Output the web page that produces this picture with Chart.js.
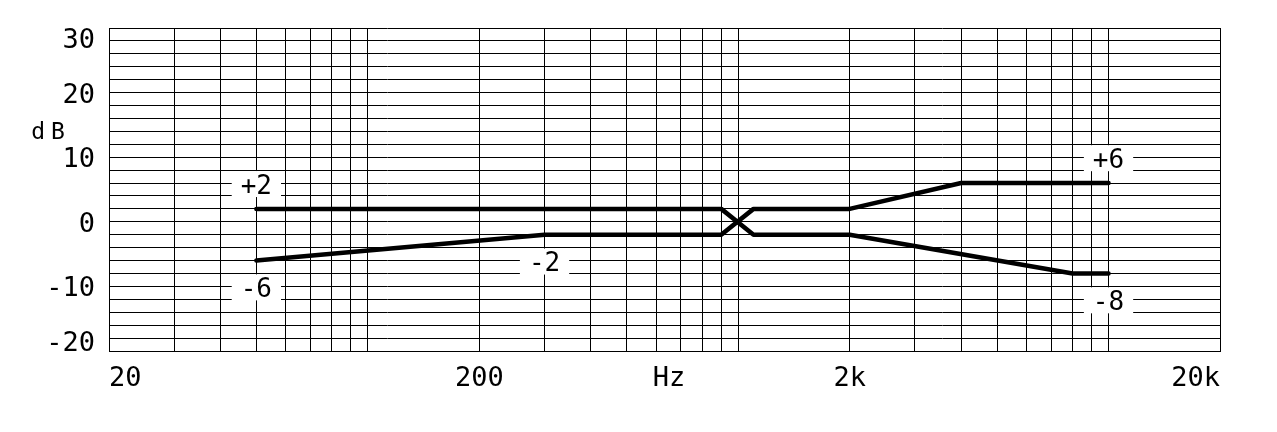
<!DOCTYPE html>
<html>
<head>
<meta charset="utf-8">
<script src="https://cdn.jsdelivr.net/npm/chart.js@4/dist/chart.umd.min.js"></script>
<style>
  html, body { margin: 0; padding: 0; background: #fff; }
  #wrap { width: 1277px; height: 432px; position: relative; }
</style>
</head>
<body>
<div id="wrap"><canvas id="eqChart"></canvas></div>
<script>
// Grid (1-2-3...-10 log grid), axis labels
const gridFreqs = [20, 30, 40, 50, 60, 70, 80, 90, 100,
  200, 300, 400, 500, 600, 700, 800, 900, 1000,
  2000, 3000, 4000, 5000, 6000, 7000, 8000, 9000, 10000, 20000];
const labelFreqs = [20, 200, 650, 2000, 20000];
const labelTexts = ['20', '200', 'Hz', '2k', '20k'];
const dbMin = -20;
const dbMax = 30;
const dbStep = 2;
const dbLabelValues = [-20, -10, 0, 10, 20, 30];

// the two curves
const curveAFreq = [50, 900, 1100, 2000, 8000, 10000];
const curveADb   = [2, 2, -2, -2, -8, -8];
const curveBFreq = [50, 300, 900, 1100, 2000, 4000, 10000];
const curveBDb   = [-6, -2, -2, 2, 2, 6, 6];

// small notes on the curves
const noteText = ['+2', '-6', '-2', '+6', '-8'];
const noteFreq = [50, 50, 300, 10000, 10000];
const noteDb   = [6, -10, -6, 10, -12];

const FONT = '"DejaVu Sans Mono", monospace';
const INK = '#000';

function toPoints(fs, ds) {
  return fs.map((f, i) => ({ x: f, y: ds[i] }));
}

const notesPlugin = {
  id: 'notes',
  beforeDatasetsDraw(chart) {
    const { ctx, scales } = chart;
    ctx.save();
    ctx.font = '26px ' + FONT;
    ctx.textAlign = 'center';
    ctx.textBaseline = 'middle';
    noteText.forEach((t, i) => {
      const px = scales.x.getPixelForValue(noteFreq[i]);
      const py = scales.y.getPixelForValue(noteDb[i]);
      const w = ctx.measureText(t).width;
      ctx.fillStyle = '#fff';
      ctx.fillRect(px - w / 2 - 9, py - 12, w + 18, 26);
      ctx.fillStyle = INK;
      ctx.fillText(t, px, py + 4);
    });
    ctx.restore();
  },
  afterDraw(chart) {
    // "dB" unit next to the y axis
    const { ctx, scales } = chart;
    ctx.save();
    ctx.font = '23px ' + FONT;
    ctx.letterSpacing = '6px';
    ctx.textAlign = 'center';
    ctx.textBaseline = 'middle';
    ctx.fillStyle = INK;
    ctx.fillText('dB', 51, scales.y.getPixelForValue(13.8));
    ctx.restore();
  }
};

function lineDs(fs, ds) {
  return {
    data: toPoints(fs, ds),
    borderColor: INK,
    borderWidth: 4.5,
    pointRadius: 0,
    tension: 0,
    borderCapStyle: 'round',
    borderJoinStyle: 'round',
    fill: false
  };
}

new Chart(document.getElementById('eqChart'), {
  type: 'line',
  data: {
    datasets: [lineDs(curveAFreq, curveADb), lineDs(curveBFreq, curveBDb)]
  },
  options: {
    responsive: true,
    maintainAspectRatio: false,
    animation: false,
    devicePixelRatio: 1,
    layout: { padding: { top: 28, right: 57, left: 0, bottom: 0 } },
    plugins: { legend: { display: false }, tooltip: { enabled: false } },
    scales: {
      x: {
        type: 'logarithmic',
        min: gridFreqs[0],
        max: gridFreqs[gridFreqs.length - 1],
        afterBuildTicks: s => {
          s.ticks = gridFreqs.concat(labelFreqs)
            .filter((v, i, a) => a.indexOf(v) === i)
            .sort((a, b) => a - b)
            .map(v => ({ value: v }));
        },
        afterFit: s => {
          s.height = 81;
          s.paddingLeft = 0;
          s.paddingRight = 0;
        },
        grid: {
          drawTicks: false,
          color: c => gridFreqs.includes(c.tick && c.tick.value) ? INK : 'rgba(0,0,0,0)',
          lineWidth: 1
        },
        border: { color: INK, width: 1 },
        ticks: {
          autoSkip: false,
          minRotation: 0,
          maxRotation: 0,
          align: 'inner',
          padding: 12,
          color: INK,
          font: { family: FONT, size: 27 },
          callback: v => {
            const k = labelFreqs.indexOf(v);
            return k >= 0 ? labelTexts[k] : '';
          }
        }
      },
      y: {
        min: dbMin,
        max: dbMax,
        afterBuildTicks: s => {
          const t = [];
          for (let v = dbMin; v <= dbMax; v += dbStep) t.push({ value: v });
          s.ticks = t;
        },
        afterFit: s => {
          s.width = 109;
          s.paddingTop = 0;
          s.paddingBottom = 0;
        },
        grid: { drawTicks: false, color: INK, lineWidth: 1 },
        border: { color: INK, width: 1 },
        ticks: {
          autoSkip: false,
          padding: 14,
          labelOffset: 3,
          color: INK,
          font: { family: FONT, size: 27, lineHeight: 0.75 },
          callback: (v, i, all) => {
            if (!dbLabelValues.includes(v)) return '';
            // end labels sit inside the frame
            if (i === all.length - 1) return ['', String(v)];
            if (i === 0) return [String(v), ''];
            return String(v);
          }
        }
      }
    }
  },
  plugins: [notesPlugin]
});
</script>
</body>
</html>
